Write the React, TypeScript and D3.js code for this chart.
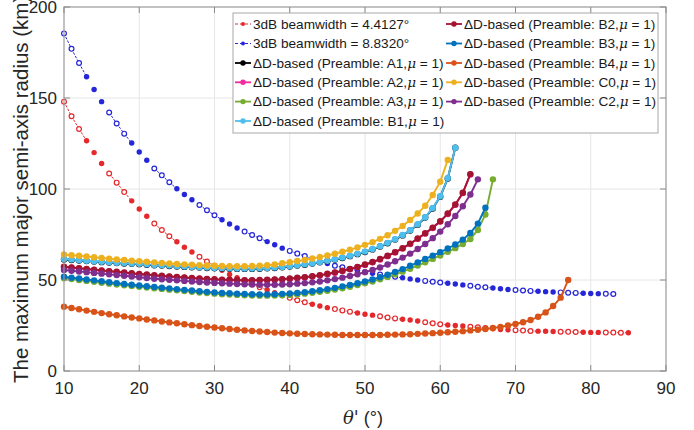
import React from 'react';
import * as d3 from 'd3';

// x values (degrees)
const THETA = [10,11,12,13,14,15,16,17,18,19,20,21,22,23,24,25,26,27,28,29,30,31,32,33,34,35,36,37,38,39,40,41,42,43,44,45,46,47,48,49,50,51,52,53,54,55,56,57,58,59,60,61,62,63,64,65,66,67,68,69,70,71,72,73,74,75,76,77,78,79,80,81,82,83,84,85];

const BW_44127 = [148,140,133,126.5,120,114,108.5,103.5,98.3,93.5,89,85,81,77.5,74,71,68,65.4,62.8,60.2,57.8,55.3,53,51.2,49.4,47.6,46,44.5,43,41.5,40.2,38.9,37.8,36.7,35.7,34.8,34,33.3,32.6,31.9,31.2,30.7,30.1,29.4,28.9,28.4,28,27.5,26.8,26.2,25.7,25.3,25,24.7,24.3,24,23.6,23.2,22.8,22.6,22.4,22.2,22,21.9,21.8,21.7,21.6,21.5,21.4,21.3,21.2,21.2,21.1,21.1,21,21];

const BW_88320 = [185.5,177,169.2,161.7,154.7,148,142,136,130.4,125.3,120.3,115.8,111.3,107.5,103.7,100.1,97,94.1,91.2,88.3,85.6,83.1,80.8,78.6,76.6,74.7,72.9,71.1,69.4,67.5,66,64.5,63.2,61.5,60,59,57.8,57,56,55.2,54.4,53.7,53,52.4,51.8,51.2,50.6,50,49.5,49,48.6,48.2,47.8,47.3,46.8,46.3,46,45.6,45.2,44.8,44.5,44.2,44,43.8,43.6,43.4,43.2,43,42.9,42.7,42.6,42.5,42.4,42.3];

const A1 = [61.3,61,60.7,60.4,60.1,59.8,59.6,59.3,59.1,58.9,58.7,58.4,58.1,57.9,57.7,57.4,57.2,57,56.8,56.6,56.4,56.3,56.2,56.1,56.1,56.1,56.2,56.4,56.6,57,57.4,57.9,58.4,59,59.7,60.4,61.2,62.1,63.1,64.2,65.4,66.8,68.4,70.2,72.2,74.5,77.2,80.4,84.3,89.3,95.8,105.8,122.7];
const A2 = [57.1,56.7,56.3,55.9,55.5,55.1,54.7,54.3,53.9,53.5,53.1,52.8,52.4,52.1,51.8,51.5,51.2,50.9,50.7,50.4,50.2,50,49.9,49.8,49.7,49.7,49.8,49.9,50.1,50.3,50.6,51,51.4,51.9,52.5,53.2,54,54.9,55.9,57,58.3,59.7,61.3,63.1,65.1,67.3,69.8,72.6,75.5,78.6,82.1,86.3,91.3,97.8,108];
const A3 = [51,50.5,50,49.5,49,48.5,48,47.5,47.1,46.7,46.3,45.9,45.5,45.1,44.7,44.3,43.9,43.5,43.1,42.8,42.5,42.2,42,41.8,41.6,41.5,41.4,41.4,41.5,41.6,41.8,42.1,42.5,43,43.5,44.1,44.8,45.5,46.3,47.2,48.2,49.2,50.4,51.7,53.1,54.6,56.2,57.9,59.7,61.6,63.5,65.5,67.5,69.8,72.5,77.5,86,105.3];
const B1 = [61.5,61.2,60.9,60.6,60.3,60,59.8,59.5,59.3,59.1,58.9,58.6,58.3,58.1,57.9,57.6,57.4,57.2,57,56.8,56.6,56.5,56.4,56.3,56.3,56.3,56.4,56.6,56.8,57.2,57.6,58.1,58.6,59.2,59.9,60.6,61.4,62.3,63.3,64.4,65.6,67,68.6,70.4,72.4,74.7,77.4,80.6,84.5,89.5,96,106,122.7];
const B2 = [57.3,56.9,56.5,56.1,55.7,55.3,54.9,54.5,54.1,53.7,53.3,53,52.6,52.3,52,51.7,51.4,51.1,50.9,50.6,50.4,50.2,50.1,50,49.9,49.9,50,50.1,50.3,50.5,50.8,51.2,51.6,52.1,52.7,53.4,54.2,55.1,56.1,57.2,58.5,59.9,61.5,63.3,65.3,67.5,70,72.8,75.7,78.8,82.3,86.5,91.5,98,108.2];
const B3 = [51.8,51.3,50.8,50.3,49.8,49.3,48.8,48.3,47.8,47.4,47,46.6,46.2,45.8,45.4,45,44.6,44.2,43.8,43.5,43.2,42.9,42.7,42.5,42.3,42.2,42.1,42.1,42.2,42.4,42.6,42.9,43.3,43.8,44.4,45,45.7,46.5,47.3,48.2,49.2,50.3,51.5,52.9,54.4,56,57.8,59.7,61.6,63.4,65.3,67.3,69.5,72.2,75.8,81,89.7];
const B4 = [35.3,34.6,33.9,33.2,32.5,31.8,31.2,30.6,30,29.4,28.9,28.3,27.8,27.2,26.7,26.2,25.7,25.2,24.7,24.3,23.9,23.5,23.1,22.7,22.3,22,21.7,21.4,21.1,20.9,20.7,20.5,20.3,20.2,20.1,20,19.9,19.8,19.8,19.8,19.8,19.8,19.8,19.9,20,20.1,20.2,20.4,20.6,20.8,21,21.3,21.6,21.9,22.3,22.7,23.1,23.6,24.2,25,25.8,26.8,28,29.8,32.2,35.7,40.3,50];
const C0 = [64,63.6,63.3,62.9,62.5,62.1,61.7,61.3,61,60.6,60.3,60,59.7,59.4,59.1,58.8,58.6,58.4,58.2,58,57.8,57.7,57.6,57.6,57.6,57.7,57.9,58.1,58.5,59.2,59.8,60.4,61,61.8,62.6,63.5,64.4,65.5,66.6,67.9,69.3,70.8,72.6,74.6,77,79.7,83,86.5,90.8,96.7,104,116];
const C2 = [55.5,55.1,54.7,54.3,53.9,53.5,53.1,52.7,52.3,51.9,51.5,51.1,50.7,50.4,50.1,49.8,49.5,49.2,48.9,48.6,48.4,48.2,48,47.8,47.6,47.5,47.4,47.4,47.4,47.5,47.7,48,48.3,48.7,49.2,49.8,50.5,51.3,52.2,53.2,54.3,55.5,56.9,58.5,60.3,62.3,64.5,67,69.8,73,76.6,80.6,85.2,90.5,97,105.3];

const X_TICKS = [10,20,30,40,50,60,70,80,90];
const Y_TICKS = [0,50,100,150,200];

type Series = { key: string; label: string; vals: number[]; color: string; dashed: boolean };

const SERIES: Series[] = [
  { key: 'bw1', label: '3dB beamwidth = 4.4127°', vals: BW_44127, color: '#e5282b', dashed: true },
  { key: 'bw2', label: '3dB beamwidth = 8.8320°', vals: BW_88320, color: '#2626d9', dashed: true },
  { key: 'A1', label: 'A1', vals: A1, color: '#000000', dashed: false },
  { key: 'A2', label: 'A2', vals: A2, color: '#f22a9c', dashed: false },
  { key: 'A3', label: 'A3', vals: A3, color: '#77AC30', dashed: false },
  { key: 'B1', label: 'B1', vals: B1, color: '#4DBEEE', dashed: false },
  { key: 'B2', label: 'B2', vals: B2, color: '#A2142F', dashed: false },
  { key: 'B3', label: 'B3', vals: B3, color: '#0072BD', dashed: false },
  { key: 'B4', label: 'B4', vals: B4, color: '#D95319', dashed: false },
  { key: 'C0', label: 'C0', vals: C0, color: '#EDB120', dashed: false },
  { key: 'C2', label: 'C2', vals: C2, color: '#7E2F8E', dashed: false },
];

const FONT = '"Liberation Sans", Arial, Helvetica, sans-serif';

export default function App() {
  const x = d3.scaleLinear().domain([10, 90]).range([64, 666]);
  const y = d3.scaleLinear().domain([0, 200]).range([371, 7]);
  const line = d3.line<[number, number]>().x(d => x(d[0])).y(d => y(d[1]));
  const [x0, x1] = x.range();
  const [yb, yt] = y.range();

  const legendRows = [24, 43.5, 63, 82.3, 101.6, 121];
  const legendCols = [235, 446];

  const renderSeries = (s: Series) => {
    const pts: [number, number][] = s.vals.map((v, i) => [THETA[i], v]);
    if (s.dashed) {
      const segs: JSX.Element[] = [];
      for (let i = 0; i < pts.length - 1; i++) {
        if (Math.floor(i / 3) % 2 === 0) {
          segs.push(<path key={'s' + i} d={line([pts[i], pts[i + 1]]) || ''} stroke={s.color} strokeWidth={1} fill="none" strokeDasharray="2.5,1.5" />);
        }
      }
      return (
        <g key={s.key}>
          {segs}
          {pts.map((p, i) => {
            const open = Math.floor(i / 3) % 2 === 0;
            return open ? (
              <circle key={i} cx={x(p[0])} cy={y(p[1])} r={2.4} fill="#fff" stroke={s.color} strokeWidth={1.2} />
            ) : (
              <circle key={i} cx={x(p[0])} cy={y(p[1])} r={2.7} fill={s.color} />
            );
          })}
        </g>
      );
    }
    return (
      <g key={s.key}>
        <path d={line(pts) || ''} stroke={s.color} strokeWidth={1.9} fill="none" />
        {pts.map((p, i) => (
          <circle key={i} cx={x(p[0])} cy={y(p[1])} r={3.2} fill={s.color} />
        ))}
      </g>
    );
  };

  return (
    <svg width={694} height={430} style={{ position: 'absolute', left: 0, top: 0, background: '#fff' }} fontFamily={FONT}>
      <rect x={0} y={0} width={694} height={430} fill="#fff" />
      {X_TICKS.slice(1, -1).map(t => (
        <line key={'gx' + t} x1={x(t)} x2={x(t)} y1={yb} y2={yt} stroke="#e6e6e6" strokeWidth={1} />
      ))}
      {Y_TICKS.slice(1, -1).map(t => (
        <line key={'gy' + t} x1={x0} x2={x1} y1={y(t)} y2={y(t)} stroke="#e6e6e6" strokeWidth={1} />
      ))}
      {SERIES.map(renderSeries)}
      <rect x={x0} y={yt} width={x1 - x0} height={yb - yt} fill="none" stroke="#9a9a9a" strokeWidth={1.2} />
      {X_TICKS.map(t => (
        <g key={'tx' + t}>
          <line x1={x(t)} x2={x(t)} y1={yb} y2={yb - 6} stroke="#8a8a8a" />
          <line x1={x(t)} x2={x(t)} y1={yt} y2={yt + 6} stroke="#8a8a8a" />
          <text x={x(t)} y={394} textAnchor="middle" fontSize={17} fill="#262626">{t}</text>
        </g>
      ))}
      {Y_TICKS.map(t => (
        <g key={'ty' + t}>
          <line x1={x0} x2={x0 + 6} y1={y(t)} y2={y(t)} stroke="#8a8a8a" />
          <line x1={x1} x2={x1 - 6} y1={y(t)} y2={y(t)} stroke="#8a8a8a" />
          <text x={57} y={y(t)} dy="0.35em" textAnchor="end" fontSize={17} fill="#262626">{t}</text>
        </g>
      ))}
      <text transform="translate(28,383) rotate(-90)" fontSize={20.5} fill="#262626">The maximum major semi-axis radius (km)</text>
      <text x={363} y={424} textAnchor="middle" fontSize={18} fill="#262626">
        <tspan fontStyle="italic" fontFamily='"DejaVu Serif", "Liberation Serif", serif'>θ'</tspan>
        <tspan> (°)</tspan>
      </text>
      <rect x={233} y={13} width={425} height={120} fill="#fff" stroke="#a8a8a8" strokeWidth={1} />
      {SERIES.map((s, i) => {
        const col = i < 6 ? 0 : 1;
        const row = i < 6 ? i : i - 6;
        const lx = legendCols[col];
        const ly = legendRows[row];
        return (
          <g key={'lg' + s.key}>
            <line x1={lx} x2={lx + 16} y1={ly} y2={ly} stroke={s.color} strokeWidth={s.dashed ? 1 : 1.8} strokeDasharray={s.dashed ? '3,2' : undefined} />
            <circle cx={lx + 8} cy={ly} r={s.dashed ? 2 : 2.7} fill={s.color} />
            <text x={lx + 18} y={ly} dy="0.36em" fontSize={13.6} fill="#1a1a1a">
              {s.dashed ? s.label : (
                <>
                  {'ΔD-based (Preamble: ' + s.label + ','}
                  <tspan fontStyle="italic" fontFamily='"DejaVu Serif", "Liberation Serif", serif'>μ</tspan>
                  {' = 1)'}
                </>
              )}
            </text>
          </g>
        );
      })}
    </svg>
  );
}
